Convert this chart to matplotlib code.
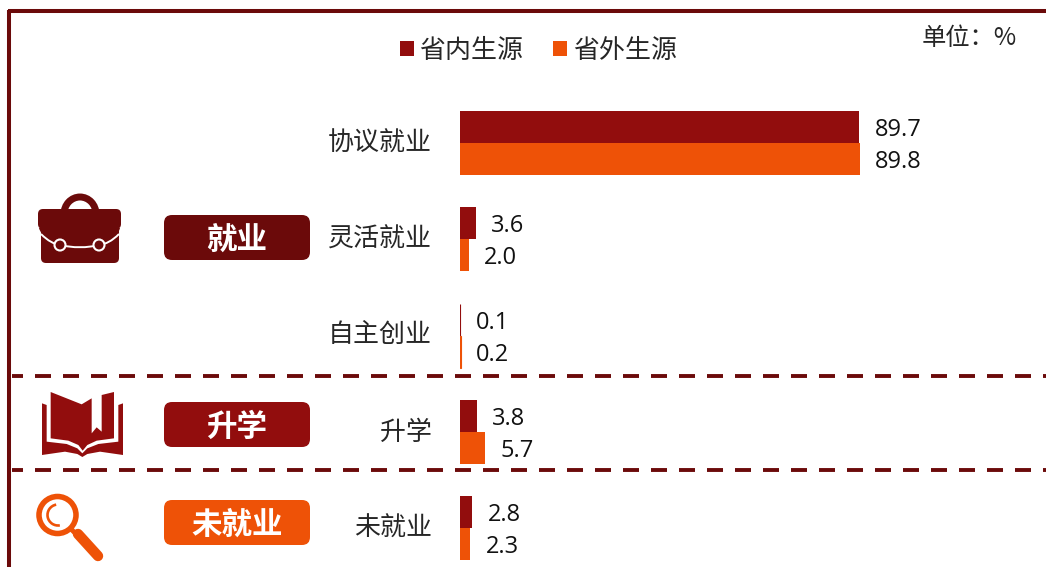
import numpy as np
import matplotlib
matplotlib.use('Agg')
import matplotlib.pyplot as plt
from matplotlib.patches import FancyBboxPatch, Circle, Arc, Polygon, PathPatch
from matplotlib.path import Path
from matplotlib.transforms import ScaledTranslation

plt.rcParams['font.family'] = ['Noto Sans CJK SC', 'DejaVu Sans']

categories = ['协议就业', '灵活就业', '自主创业', '升学', '未就业']
series_names = ['省内生源', '省外生源']
inside = [89.7, 3.6, 0.1, 3.8, 2.8]
outside = [89.8, 2.0, 0.2, 5.7, 2.3]
group_labels = ['就业', '升学', '未就业']

DARK = '#6B0A0A'
RED = '#920D0D'
ORANGE = '#EE5207'
TEXT = '#262626'

W, H = 1046, 567
fig = plt.figure(figsize=(W / 100, H / 100), dpi=100)

# overlay in pixel coordinates for frame, pills and icons
bg = fig.add_axes([0, 0, 1, 1])
bg.set_xlim(0, W)
bg.set_ylim(H, 0)
bg.axis('off')

# frame
bg.plot([9, 9], [10, H], color=DARK, lw=2.9, solid_capstyle='butt')
bg.plot([8, W], [11, 11], color=DARK, lw=2.9, solid_capstyle='butt')
dash_lw = 2.8
dash_px = dash_lw * 100 / 72
for yy in [376, 470]:
    bg.plot([12, W], [yy, yy], color=DARK, lw=dash_lw,
            linestyle=(5 / dash_px, (16 / dash_px, 12 / dash_px)), dash_capstyle='butt')

# pills
pill_tops = [215, 402, 500]
pill_cols = [DARK, RED, ORANGE]
for lab, top, col in zip(group_labels, pill_tops, pill_cols):
    bg.add_patch(FancyBboxPatch((164, top), 146, 45, boxstyle='round,pad=0,rounding_size=8',
                                fc=col, ec='none'))
    bg.text(237, top + 25, lab, color='white', fontsize=22, fontweight='bold',
            ha='center', va='center')

# briefcase
bg.add_patch(Arc((80, 214), 32, 34, theta1=180, theta2=360, color=DARK, lw=5))
bg.add_patch(FancyBboxPatch((41, 225), 78, 38, boxstyle='round,pad=0,rounding_size=5', fc=DARK, ec='none'))
bg.add_patch(FancyBboxPatch((38, 209), 83, 20, boxstyle='round,pad=0,rounding_size=5', fc=DARK, ec='none'))
flap = Path([(39, 228), (41, 236), (52, 243), (60, 245), (72, 248), (88, 248), (99, 245),
             (110, 243), (118, 236), (120, 228)],
            [Path.MOVETO, Path.CURVE4, Path.CURVE4, Path.CURVE4, Path.CURVE4, Path.CURVE4, Path.CURVE4,
             Path.CURVE4, Path.CURVE4, Path.CURVE4])
bg.add_patch(PathPatch(flap, fc=DARK, ec='none'))
flap_line = Path([(41, 234), (48, 241), (54, 244), (60, 245), (72, 248), (88, 248), (99, 245),
                  (106, 244), (112, 241), (119, 234)],
                 [Path.MOVETO, Path.CURVE4, Path.CURVE4, Path.CURVE4, Path.CURVE4, Path.CURVE4, Path.CURVE4,
                  Path.CURVE4, Path.CURVE4, Path.CURVE4])
bg.add_patch(PathPatch(flap_line, fc='none', ec='white', lw=1.4))
for cx in [60, 99]:
    bg.add_patch(Circle((cx, 245), 5.5, fc=DARK, ec='white', lw=1.5))

# book
def zx(p):
    return [(x / 3, 370 + y / 3) for x, y in p]

bg.add_patch(Polygon(zx([(152, 66), (245, 103), (275, 85), (275, 190), (290, 172), (305, 185), (305, 75),
                         (342, 66), (342, 205), (290, 212), (262, 225), (248, 242), (235, 225),
                         (205, 212), (152, 205)]), fc=RED, ec='none'))
bg.add_patch(Polygon(zx([(126, 100), (140, 105), (140, 215), (200, 222), (232, 235), (247, 250),
                         (262, 235), (295, 222), (355, 215), (355, 105), (369, 100), (369, 255),
                         (300, 245), (262, 252), (247, 261), (232, 252), (195, 245), (126, 255)]),
                     fc=RED, ec='none'))

# magnifier
bg.add_patch(Circle((57.5, 515), 18.5, fc='none', ec=ORANGE, lw=4.0))
bg.add_patch(Arc((58, 515), 21, 21, theta1=80, theta2=260, color=ORANGE, lw=1.9))
bg.plot([71, 78], [529, 536], color=ORANGE, lw=3.5, solid_capstyle='butt')
bg.plot([78, 98], [534, 556], color=ORANGE, lw=7.5, solid_capstyle='round')

# bars
px_per_unit = 4.45
x0, x1 = 460, W
y_top, y_bot = 95, H
ax = fig.add_axes([x0 / W, 1 - y_bot / H, (x1 - x0) / W, (y_bot - y_top) / H])
ax.patch.set_alpha(0)
ax.set_xlim(0, (x1 - x0) / px_per_unit)
ax.set_ylim((y_bot - 143) / 96.25, (y_top - 143) / 96.25)

pos = np.arange(len(categories))
h = 32 / 96.25
b1 = ax.barh(pos - h / 2, inside, height=h, color=RED, label=series_names[0])
b2 = ax.barh(pos + h / 2, outside, height=h, color=ORANGE, label=series_names[1])

# the 0.1/0.2 bars are thinner than a pixel, give them an edge so they show
b1[2].set(edgecolor=RED, linewidth=0.8)
b2[2].set(edgecolor=ORANGE, linewidth=0.8)

for b in [b1, b2]:
    for t in ax.bar_label(b, fmt='%.1f', padding=11, fontsize=17, color='#111111',
                          family=['Open Sans', 'DejaVu Sans']):
        t.xyann = (11, -2.2)

ax.set_yticks(pos)
ax.set_yticklabels(categories, fontsize=18.7, color=TEXT)
ax.tick_params(axis='y', length=0, pad=20)
ax.set_xticks([])
shift = ScaledTranslation(0, 2.0 / 72, fig.dpi_scale_trans)
for lab in ax.get_yticklabels():
    lab.set_transform(lab.get_transform() + shift)
for s in ax.spines.values():
    s.set_visible(False)

fig.legend(handles=[b1, b2], loc='center left', bbox_to_anchor=(392 / W, 1 - 50 / H), ncols=2,
           frameon=False, fontsize=18.7, labelcolor=TEXT, handlelength=0.54, handleheight=0.54,
           handletextpad=0.2, columnspacing=1.17, borderpad=0.3, borderaxespad=0)

fig.text(922 / W, 1 - 38 / H, '单位：%', fontsize=17.5, color=TEXT, ha='left', va='center')

fig.savefig('out.png', dpi=100)
